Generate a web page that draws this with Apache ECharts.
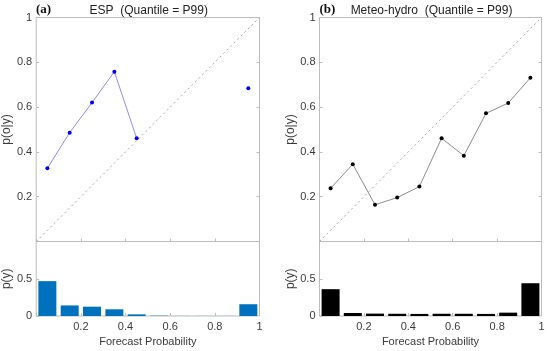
<!DOCTYPE html>
<html>
<head>
<meta charset="utf-8">
<script src="https://cdn.jsdelivr.net/npm/echarts@6/dist/echarts.min.js"></script>
<style>
html,body{margin:0;padding:0;background:#fff;}
#c{width:550px;height:351px;}
</style>
</head>
<body>
<div id="c"></div>
<script>
// Forecast probability bin centres
var bins = [0.05, 0.15, 0.25, 0.35, 0.45, 0.55, 0.65, 0.75, 0.85, 0.95];
// (a) ESP: observed relative frequency p(o|y) and forecast frequency p(y)
var espRel = [0.327, 0.486, 0.62, 0.758, 0.461, null, null, null, null, 0.684];
var espFreq = [0.468, 0.142, 0.125, 0.09, 0.022, 0.004, 0.001, 0.001, 0.001, 0.158];
// (b) Meteo-hydro
var mhRel = [0.2375, 0.345, 0.164, 0.196, 0.245, 0.461, 0.383, 0.572, 0.618, 0.731];
var mhFreq = [0.36, 0.04, 0.032, 0.03, 0.028, 0.03, 0.03, 0.028, 0.045, 0.44];
// axis ticks / labels
var xTicks = ['0.2', '0.4', '0.6', '0.8', '1'];
var diag = [[0, 0], [1, 1]];

function zip(xs, ys) { return xs.map(function (x, i) { return [x, ys[i]]; }); }

var FONT = 'Liberation Sans, Arial, sans-serif';
var frameColor = '#bdbdbd';
var labelColor = '#3a3a3a';

var panels = [
  { left: 36, width: 223.5, letter: '(a)', title: 'ESP  (Quantile = P99)', rel: espRel, freq: espFreq,
    line: '#8c8cf5', marker: '#0000ff', bar: '#0072BD', nameGap: 18 },
  { left: 319.5, width: 222, letter: '(b)', title: 'Meteo-hydro  (Quantile = P99)', rel: mhRel, freq: mhFreq,
    line: '#8c8c8c', marker: '#000000', bar: '#000000', nameGap: 20 }
];

var grid = [], xAxis = [], yAxis = [], series = [], graphic = [];
var topY = 17.5, midY = 241.5, botY = 316;

panels.forEach(function (p, k) {
  var gU = grid.length;
  grid.push({ left: p.left, top: topY, width: p.width, height: midY - topY, show: true,
    borderColor: frameColor, borderWidth: 1, containLabel: false });
  var gL = grid.length;
  grid.push({ left: p.left, top: midY, width: p.width, height: botY - midY, show: true,
    borderColor: frameColor, borderWidth: 1, containLabel: false });

  var xU = xAxis.length;
  xAxis.push({ type: 'value', gridIndex: gU, min: 0, max: 1, interval: 0.2,
    axisLine: { show: false }, axisTick: { inside: true, length: 3, lineStyle: { color: frameColor } },
    axisLabel: { show: false }, splitLine: { show: false } });
  var xL = xAxis.length;
  xAxis.push({ type: 'value', gridIndex: gL, min: 0, max: 1, interval: 0.2,
    axisLine: { show: false }, axisTick: { inside: true, length: 3, lineStyle: { color: frameColor } },
    axisLabel: { color: labelColor, fontSize: 11, fontFamily: FONT, margin: 5,
      formatter: function (v) { var i = Math.round(v * 5) - 1; return i >= 0 ? xTicks[i] : ''; } },
    splitLine: { show: false },
    name: 'Forecast Probability', nameLocation: 'middle', nameGap: 20,
    nameTextStyle: { color: labelColor, fontSize: 11, fontFamily: FONT } });

  var yU = yAxis.length;
  yAxis.push({ type: 'value', gridIndex: gU, min: 0, max: 1, interval: 0.2,
    axisLine: { show: false }, axisTick: { inside: true, length: 3, lineStyle: { color: frameColor } },
    axisLabel: { color: labelColor, fontSize: 11, fontFamily: FONT, margin: 4,
      formatter: function (v) { return v === 0 ? '' : String(Math.round(v * 10) / 10); } },
    splitLine: { show: false },
    name: 'p(o|y)', nameLocation: 'middle', nameGap: p.nameGap,
    nameTextStyle: { color: labelColor, fontSize: 12, fontFamily: FONT } });
  yAxis.push({ type: 'value', gridIndex: gU, position: 'right', min: 0, max: 1, interval: 0.2,
    axisLine: { show: false }, axisTick: { inside: true, length: 3, lineStyle: { color: frameColor } },
    axisLabel: { show: false }, splitLine: { show: false } });
  var yL = yAxis.length;
  yAxis.push({ type: 'value', gridIndex: gL, min: 0, max: 1, interval: 0.5,
    axisLine: { show: false }, axisTick: { inside: true, length: 3, lineStyle: { color: frameColor } },
    axisLabel: { color: labelColor, fontSize: 11, fontFamily: FONT, margin: 4,
      formatter: function (v) { return v >= 1 ? '' : String(v); } },
    splitLine: { show: false },
    name: 'p(y)', nameLocation: 'middle', nameGap: p.nameGap,
    nameTextStyle: { color: labelColor, fontSize: 12, fontFamily: FONT } });

  series.push({ type: 'line', xAxisIndex: xU, yAxisIndex: yU, data: diag, symbol: 'none', silent: true,
    lineStyle: { color: '#a8a8a8', width: 1, type: [2, 3] }, animation: false });
  series.push({ type: 'line', xAxisIndex: xU, yAxisIndex: yU, data: zip(bins, p.rel), connectNulls: false,
    symbol: 'circle', symbolSize: 4, showAllSymbol: true,
    lineStyle: { color: p.line, width: 1 }, itemStyle: { color: p.marker }, animation: false });
  series.push({ type: 'bar', xAxisIndex: xL, yAxisIndex: yL, data: zip(bins, p.freq), barWidth: 18,
    itemStyle: { color: p.bar }, animation: false });

  graphic.push({ type: 'text', left: p.left, top: 3, style: { text: p.letter,
    font: 'bold 13px "Liberation Serif", "Times New Roman", serif', fill: '#111' } });
  graphic.push({ type: 'text', x: p.left + p.width / 2 + 1, y: 11, style: { text: p.title,
    font: '12px ' + FONT, fill: '#222', textAlign: 'center', textVerticalAlign: 'middle' } });
});

var chart = echarts.init(document.getElementById('c'), null, { renderer: 'canvas' });
chart.setOption({ animation: false, backgroundColor: '#fff', grid: grid, xAxis: xAxis, yAxis: yAxis,
  series: series, graphic: graphic });
</script>
</body>
</html>
